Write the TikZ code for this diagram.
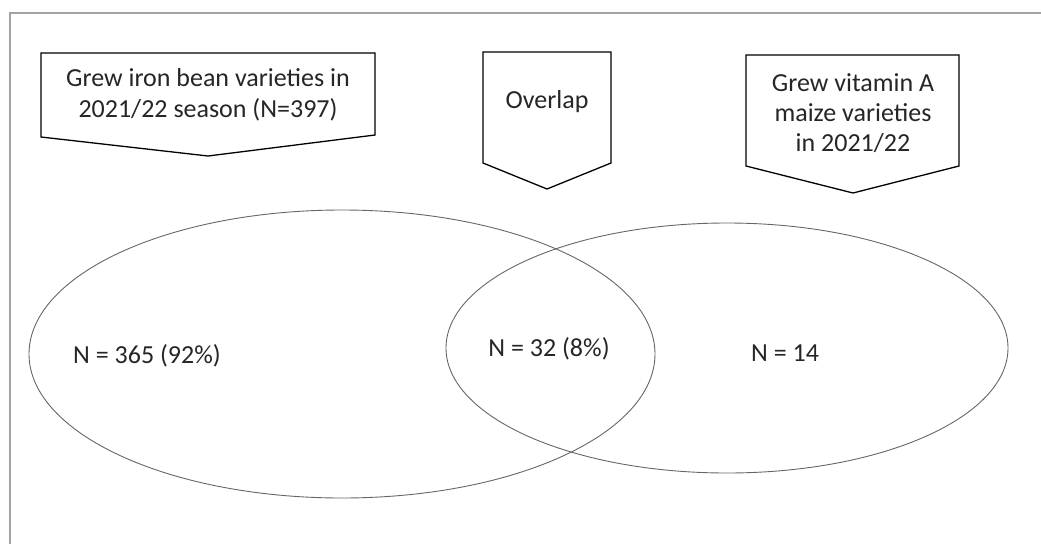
\documentclass[tikz,border=0pt]{standalone}
\usepackage{fontspec}
\setmainfont{Carlito}
\usepackage{xcolor}
\usepackage{tikz}
\usetikzlibrary{positioning}
\definecolor{FrameGrey}{HTML}{A3A3A3}
\definecolor{RingGrey}{HTML}{666666}
\definecolor{InkGrey}{HTML}{262626}

\begin{document}
\begin{tikzpicture}[x=1pt,y=-1pt,callout/.style={draw=black,line width=1.3pt,fill=white},ring/.style={draw=RingGrey,line width=.9pt},lbl/.style={text=InkGrey,font=\fontsize{26}{31}\selectfont,align=center,inner sep=0pt}]
\useasboundingbox (0,0) rectangle (1041,544);
\draw[FrameGrey,line width=1.5pt] (10,544)--(10,13)--(1041,13);
\draw[callout] (41,53)--(375,53)--(375,135)--(208,156)--(41,137)--cycle;
\draw[callout] (483,52)--(611,52)--(611,163)--(547,189)--(483,163)--cycle;
\draw[callout] (746,55)--(959,55)--(959,166)--(853,193)--(746,166)--cycle;
\node[lbl] (bean) at (208,95) {Grew iron bean varieties in\\2021/22 season (N=397)};
\node[lbl] (overlap) at (547,102) {Overlap};
\node[lbl,font=\fontsize{26}{30}\selectfont] (maize) at (853,113) {Grew vitamin A\\maize varieties\\in 2021/22};
\draw[ring] (342,354) ellipse [x radius=313,y radius=144];
\draw[ring] (727,348) ellipse [x radius=281,y radius=125];
\node[lbl] (beanN) at (147,356) {N = 365 (92\%)};
\node[lbl] (bothN) at (549,349) {N = 32 (8\%)};
\node[lbl] (maizeN) at (785,353) {N = 14};
\end{tikzpicture}
\end{document}
